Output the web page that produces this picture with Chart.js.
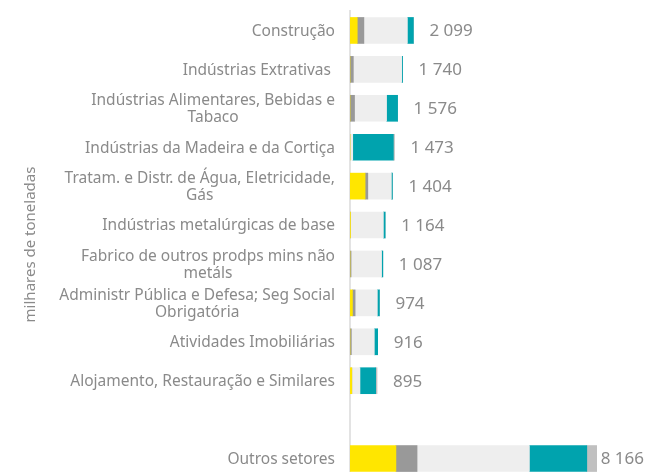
<!DOCTYPE html>
<html>
<head>
<meta charset="utf-8">
<script src="https://cdn.jsdelivr.net/npm/chart.js@4"></script>
<style>
  html, body { margin: 0; padding: 0; background: #fff; overflow: hidden; }
  #wrap { width: 646px; height: 480px; }
</style>
</head>
<body>
<div id="wrap"><canvas id="sectorChart" width="646" height="480"></canvas></div>
<script>
const categories = [
  'Construção',
  'Indústrias Extrativas ',
  ['Indústrias Alimentares, Bebidas e', 'Tabaco'],
  'Indústrias da Madeira e da Cortiça',
  ['Tratam. e Distr. de Água, Eletricidade,', 'Gás'],
  'Indústrias metalúrgicas de base',
  ['Fabrico de outros prodps mins não', 'metáls'],
  ['Administr Pública e Defesa; Seg Social', 'Obrigatória'],
  'Atividades Imobiliárias',
  'Alojamento, Restauração e Similares',
  '',
  'Outros setores'
];

// stacked pieces, milhares de toneladas
const yellowVals = [240, 0, 0, 0, 500, 15, 0, 80, 0, 60, null, 1520];
const grayVals = [220, 110, 150, 0, 90, 0, 35, 90, 45, 0, null, 700];
const lightVals = [1440, 1600, 1060, 90, 780, 1090, 1010, 735, 760, 270, null, 3720];
const tealVals = [199, 30, 366, 1345, 34, 59, 42, 69, 111, 520, null, 1900];
const silverVals = [0, 0, 0, 38, 0, 0, 0, 0, 0, 45, null, 326];
const totalLabels = ['2 099', '1 740', '1 576', '1 473', '1 404', '1 164', '1 087', '974', '916', '895', '', '8 166'];

const textGray = '#8a8a8a';

// draws category labels (block right aligned, lines centered), totals and axis title
const sideText = {
  id: 'sideText',
  afterDatasetsDraw(chart) {
    const c = chart.ctx;
    const y = chart.scales.y;
    const x = chart.scales.x;
    c.save();
    c.fillStyle = textGray;
    c.textBaseline = 'middle';

    c.font = '15.5px "Noto Sans"';
    categories.forEach((lab, i) => {
      const lines = Array.isArray(lab) ? lab : [lab];
      const cy = y.getPixelForValue(i);
      const widest = Math.max(...lines.map(l => c.measureText(l).width));
      const right = 335;
      const lh = 17.5;
      c.textAlign = 'center';
      lines.forEach((l, k) => {
        c.fillText(l, right - widest / 2, cy + (k - (lines.length - 1) / 2) * lh + 1);
      });
    });

    c.font = '17px "Noto Sans"';
    c.textAlign = 'left';
    totalLabels.forEach((t, i) => {
      if (!t) return;
      const sum = yellowVals[i] + grayVals[i] + lightVals[i] + tealVals[i] + silverVals[i];
      const gap = i === totalLabels.length - 1 ? 4 : 16;
      c.fillText(t, x.getPixelForValue(sum) + gap, y.getPixelForValue(i) + 1);
    });

    c.font = '15px "Noto Sans"';
    c.textAlign = 'center';
    c.translate(31, (chart.chartArea.top + chart.chartArea.bottom) / 2);
    c.rotate(-Math.PI / 2);
    c.fillText('milhares de toneladas', 0, 0);
    c.restore();
  }
};

const ctx = document.getElementById('sectorChart').getContext('2d');
const sectorChart = new Chart(ctx, {
  type: 'bar',
  data: {
    labels: categories,
    datasets: [
      { label: 'a', data: yellowVals, backgroundColor: '#FFE600' },
      { label: 'b', data: grayVals, backgroundColor: '#999999' },
      { label: 'c', data: lightVals, backgroundColor: '#EEEEEE' },
      { label: 'd', data: tealVals, backgroundColor: '#00A3AE' },
      { label: 'e', data: silverVals, backgroundColor: '#C0C0C0' }
    ]
  },
  options: {
    indexAxis: 'y',
    responsive: false,
    animation: false,
    layout: { padding: { top: 11, bottom: 2, left: 0, right: 0 } },
    datasets: { bar: { barThickness: 26, borderWidth: 0 } },
    plugins: {
      legend: { display: false },
      tooltip: { enabled: false }
    },
    scales: {
      x: {
        stacked: true,
        display: false,
        min: 0,
        max: 9800
      },
      y: {
        stacked: true,
        ticks: { display: false },
        grid: { display: false },
        border: { display: true, color: '#e3e3e3', width: 2 },
        afterFit: function(scale) { scale.width = 350; }
      }
    }
  },
  plugins: [sideText]
});
</script>
</body>
</html>
